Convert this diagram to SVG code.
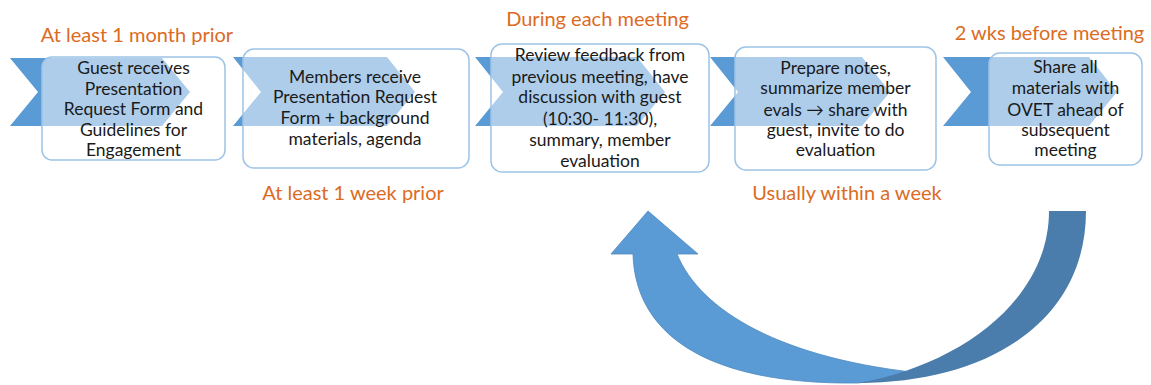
<svg xmlns="http://www.w3.org/2000/svg" width="1151" height="385" viewBox="0 0 1151 385">
<style>
.chev{fill:#5B9BD5}
.box{fill:#FFFFFF;fill-opacity:0.5;stroke:#9DC3E6;stroke-width:1.5}
.t{font-family:Lato,"Open Sans",sans-serif;font-size:17.5px;fill:#1A1A1A;text-anchor:middle}
.lbl{font-family:Lato,"Open Sans",sans-serif;font-size:20px;fill:#DC6B1F;text-anchor:middle}
</style>
<rect width="1151" height="385" fill="#FFFFFF"/>
<g id="connectors">
<path id="arrow-front" d="M858,383 C700,385 635,330 633,254 L611,254 L648,211 L698,254 L677,254 C700,310 780,360 930,374 Z" fill="#5B9BD5" stroke="#4F89BF" stroke-width="0.8"/>
<path id="arrow-back" d="M1049,211 L1086,211 C1086,320 990,383 858,383 C960,365 1049,300 1049,211 Z" fill="#4A7CAC"/>
</g>
<g id="node1">
<polygon class="chev" points="10,58 162,58 190,92 162,126 10,126 38,92"/>
<rect class="box" x="42" y="57" width="183" height="103" rx="10"/>
<text class="t" x="133.5" y="74">Guest receives</text>
<text class="t" x="133.5" y="94.5">Presentation</text>
<text class="t" x="133.5" y="115">Request Form and</text>
<text class="t" x="133.5" y="135.5">Guidelines for</text>
<text class="t" x="133.5" y="156">Engagement</text>
</g>
<g id="node2">
<polygon class="chev" points="233,57 387,57 415,92 387,126 233,126 261,92"/>
<rect class="box" x="243" y="49" width="226" height="119" rx="11"/>
<text class="t" x="355" y="83">Members receive</text>
<text class="t" x="355" y="103">Presentation Request</text>
<text class="t" x="355" y="124">Form + background</text>
<text class="t" x="355" y="145">materials, agenda</text>
</g>
<g id="node3">
<polygon class="chev" points="475,57 637,57 665,92 637,126 475,126 503,92"/>
<rect class="box" x="491" y="44" width="218" height="128" rx="11"/>
<text class="t" x="600" y="61">Review feedback from</text>
<text class="t" x="600" y="82.5">previous meeting, have</text>
<text class="t" x="600" y="103">discussion with guest</text>
<text class="t" x="600" y="124.5">(10:30- 11:30),</text>
<text class="t" x="600" y="145.5">summary, member</text>
<text class="t" x="600" y="166.5">evaluation</text>
</g>
<g id="node4">
<polygon class="chev" points="710,57 862,57 890,92 862,126 710,126 738,92"/>
<rect class="box" x="735" y="47" width="201" height="123" rx="11"/>
<text class="t" x="835.5" y="74">Prepare notes,</text>
<text class="t" x="835.5" y="94">summarize member</text>
<text class="t" x="835.5" y="115.5">evals → share with</text>
<text class="t" x="835.5" y="136">guest, invite to do</text>
<text class="t" x="835.5" y="156">evaluation</text>
</g>
<g id="node5">
<polygon class="chev" points="943,57 1089,57 1117,92 1089,126 943,126 971,92"/>
<rect class="box" x="989" y="53" width="153" height="112" rx="11"/>
<text class="t" x="1065.5" y="73">Share all</text>
<text class="t" x="1065.5" y="94">materials with</text>
<text class="t" x="1065.5" y="115.5">OVET ahead of</text>
<text class="t" x="1065.5" y="136">subsequent</text>
<text class="t" x="1065.5" y="156">meeting</text>
</g>
<g id="labels">
<text class="lbl" x="137" y="42">At least 1 month prior</text>
<text class="lbl" x="597.5" y="26">During each meeting</text>
<text class="lbl" x="1049.5" y="40">2 wks before meeting</text>
<text class="lbl" x="353" y="200">At least 1 week prior</text>
<text class="lbl" x="847" y="200">Usually within a week</text>
</g>
</svg>
